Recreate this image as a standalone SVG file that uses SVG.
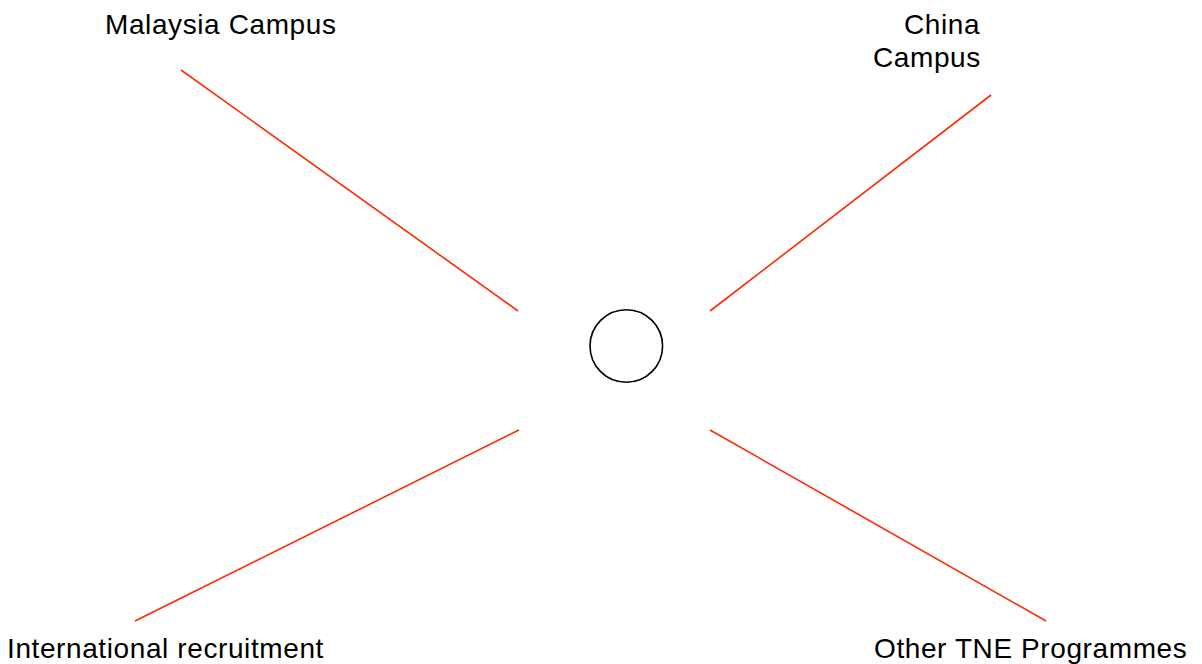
<svg xmlns="http://www.w3.org/2000/svg" width="1202" height="664" viewBox="0 0 1202 664">
<style>
.lbl{font-family:"Liberation Sans",Arial,sans-serif;font-size:28px;letter-spacing:0.6px;fill:#000}
.con{stroke:#FF2A00;stroke-width:1.6;fill:none}
</style>
<rect width="1202" height="664" fill="#fff"/>
<g id="connectors">
<line class="con" x1="181" y1="70" x2="518" y2="311"/>
<line class="con" x1="991" y1="95" x2="710" y2="311"/>
<line class="con" x1="519" y1="430" x2="135" y2="621"/>
<line class="con" x1="710" y1="430" x2="1046" y2="621"/>
</g>
<g id="center"><circle cx="626.3" cy="346" r="36.3" fill="none" stroke="#000" stroke-width="1.6"/></g>
<g id="malaysia"><text class="lbl" x="105" y="34">Malaysia Campus</text></g>
<g id="china"><text class="lbl" x="904" y="34">China</text><text class="lbl" x="873" y="67">Campus</text></g>
<g id="international"><text class="lbl" x="7" y="658">International recruitment</text></g>
<g id="other"><text class="lbl" x="874" y="658">Other TNE Programmes</text></g>
</svg>
